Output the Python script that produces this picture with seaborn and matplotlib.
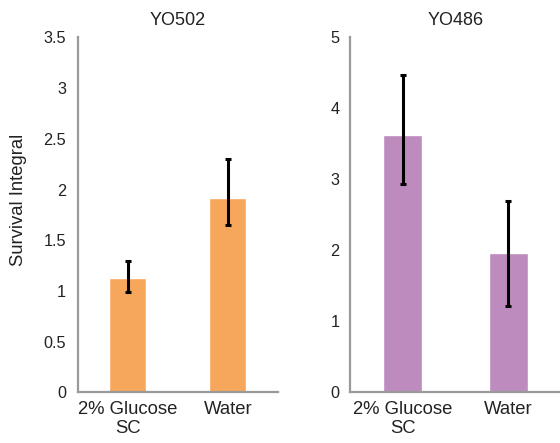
import matplotlib
matplotlib.use("Agg")
import matplotlib.pyplot as plt
import seaborn as sns
import pandas as pd
import numpy as np

categories = ["2% Glucose\nSC", "Water"]

yo502_values = [1.13, 1.92]
yo502_err_low = [0.99, 1.65]
yo502_err_high = [1.30, 2.30]

yo486_values = [3.63, 1.97]
yo486_err_low = [2.93, 1.21]
yo486_err_high = [4.47, 2.70]

titles = ["YO502", "YO486"]
colors = ["#F7A75B", "#BD8BBE"]
ylims = [3.5, 5]
yticks_left = [0, 0.5, 1, 1.5, 2, 2.5, 3, 3.5]
yticks_right = [0, 1, 2, 3, 4, 5]

sns.set_theme(style="white")
plt.rcParams["font.family"] = ["Liberation Sans", "DejaVu Sans"]

fig = plt.figure(figsize=(5.6, 4.43), dpi=100)
ax1 = fig.add_axes([0.139, 0.1144, 0.357, 0.801])
ax2 = fig.add_axes([0.6245, 0.1144, 0.378, 0.801])

spine_color = "#9a9a9a"
text_color = "#222222"
datasets = [
    (ax1, yo502_values, yo502_err_low, yo502_err_high, yticks_left),
    (ax2, yo486_values, yo486_err_low, yo486_err_high, yticks_right),
]

for i, (ax, vals, lo, hi, yt) in enumerate(datasets):
    df = pd.DataFrame({"cat": categories, "val": vals})
    sns.barplot(data=df, x="cat", y="val", color=colors[i], saturation=1,
                width=0.37, errorbar=None, ax=ax)
    x = np.arange(len(categories))
    v = np.array(vals)
    yerr = [v - np.array(lo), np.array(hi) - v]
    ax.errorbar(x, v, yerr=yerr, fmt="none", ecolor="black", elinewidth=2.2,
                capsize=2.5, capthick=2.2)
    ax.set_xlim(-0.5, 1.5)
    ax.set_ylim(0, ylims[i])
    ax.set_yticks(yt)
    ax.set_yticklabels([f"{t:g}" for t in yt])
    ax.set_title(titles[i], fontsize=13, color=text_color, pad=9)
    ax.set_xlabel("")
    ax.set_ylabel("")
    for s in ["top", "right"]:
        ax.spines[s].set_visible(False)
    for s in ["left", "bottom"]:
        ax.spines[s].set_color(spine_color)
        ax.spines[s].set_linewidth(1.6)
    ax.set_xticks(x)
    ax.set_xticklabels(categories, fontsize=13.3, color=text_color, linespacing=1.15)
    ax.set_xticks([-0.5, 0.5, 1.5], minor=True)
    ax.tick_params(axis="x", which="major", length=0, pad=6)
    ax.tick_params(axis="x", which="minor", length=4, width=1.6, color=spine_color, direction="out")
    ax.tick_params(axis="y", labelsize=11.7, labelcolor=text_color)

ax1.tick_params(axis="y", which="major", length=4, width=1.6, color=spine_color, direction="out", pad=4.5)
ax1.set_ylabel("Survival Integral", fontsize=13.3, color=text_color, labelpad=12)
ax1.yaxis.label.set_y(0.543)
ax2.set_yticks(np.arange(0, 5.01, 0.5), minor=True)
ax2.tick_params(axis="y", which="both", length=1.5, width=1.6, color=spine_color, direction="out", pad=6)

fig.savefig("out.png", dpi=100)
